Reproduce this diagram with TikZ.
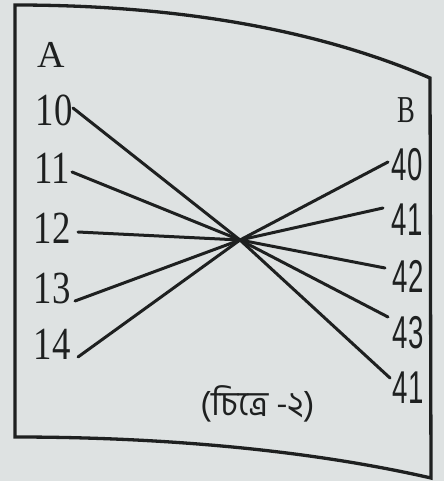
\documentclass[tikz,border=0pt]{standalone}
\usepackage{fontspec}
\setmainfont{Liberation Serif}
\newfontfamily\bnfont[Script=Bengali]{Hind Siliguri}
\newfontfamily\lnum[FakeStretch=0.8]{Liberation Serif}
\newfontfamily\bfam[FakeStretch=0.7]{Liberation Serif}
\newfontfamily\rnum[FakeStretch=0.6]{Liberation Sans}
\definecolor{bg}{RGB}{222,226,226}
\definecolor{ink}{RGB}{30,32,32}
\tikzset{
  leftnum/.style={text=ink, inner sep=0pt, font=\lnum\fontsize{46}{46}\selectfont},
  rightnum/.style={text=ink, inner sep=0pt, font=\rnum\fontsize{46}{46}\selectfont},
  letterlab/.style={text=ink, inner sep=0pt},
  wire/.style={draw=ink, line width=3pt, line cap=round, line join=round},
  frame/.style={draw=ink, line width=3.3pt, line join=miter}
}
\begin{document}
\begin{tikzpicture}[x=1pt,y=-1pt]
\fill[bg] (0,0) rectangle (444,481);
\useasboundingbox (0,0) rectangle (444,481);
% frame
\draw[frame] (15,5) .. controls (150,5) and (300,22) .. (430,78)
  -- (431,478) .. controls (300,448) and (150,437) .. (15,437) -- cycle;
% labels
\node[letterlab, font=\fontsize{38}{38}\selectfont] (A) at (51,55) {A};
\node[letterlab, font=\bfam\fontsize{38}{38}\selectfont] (B) at (406,110) {B};
\node[leftnum] (n10) at (54,110) {10};
\node[leftnum] (n11) at (52,168) {11};
\node[leftnum] (n12) at (52,228) {12};
\node[leftnum] (n13) at (52,288) {13};
\node[leftnum] (n14) at (52,344) {14};
\node[rightnum] (m40) at (407,165) {40};
\node[rightnum] (m41) at (407,220) {41};
\node[rightnum] (m42) at (408,276) {42};
\node[rightnum] (m43) at (408,333) {43};
\node[rightnum] (m41b) at (408,388) {41};
\node[text=ink, inner sep=0pt, font=\bnfont\fontsize{34}{34}\selectfont] (cap) at (258,404) {(চিত্রে -২)};
% connector ends
\coordinate (c) at (240,240);
\coordinate (l10) at (73,108);
\coordinate (l11) at (72,172);
\coordinate (l12) at (78,232);
\coordinate (l13) at (75,301);
\coordinate (l14) at (78,357);
\coordinate (r40) at (388,162);
\coordinate (r41) at (383,208);
\coordinate (r42) at (385,268);
\coordinate (r43) at (388,317);
\coordinate (r41b) at (390,378);
\draw[wire] (l10) -- (c) -- (r41b);
\draw[wire] (l11) -- (c) -- (r43);
\draw[wire] (l12) -- (c) -- (r42);
\draw[wire] (l13) -- (c) -- (r41);
\draw[wire] (l14) -- (c) -- (r40);
\end{tikzpicture}
\end{document}
